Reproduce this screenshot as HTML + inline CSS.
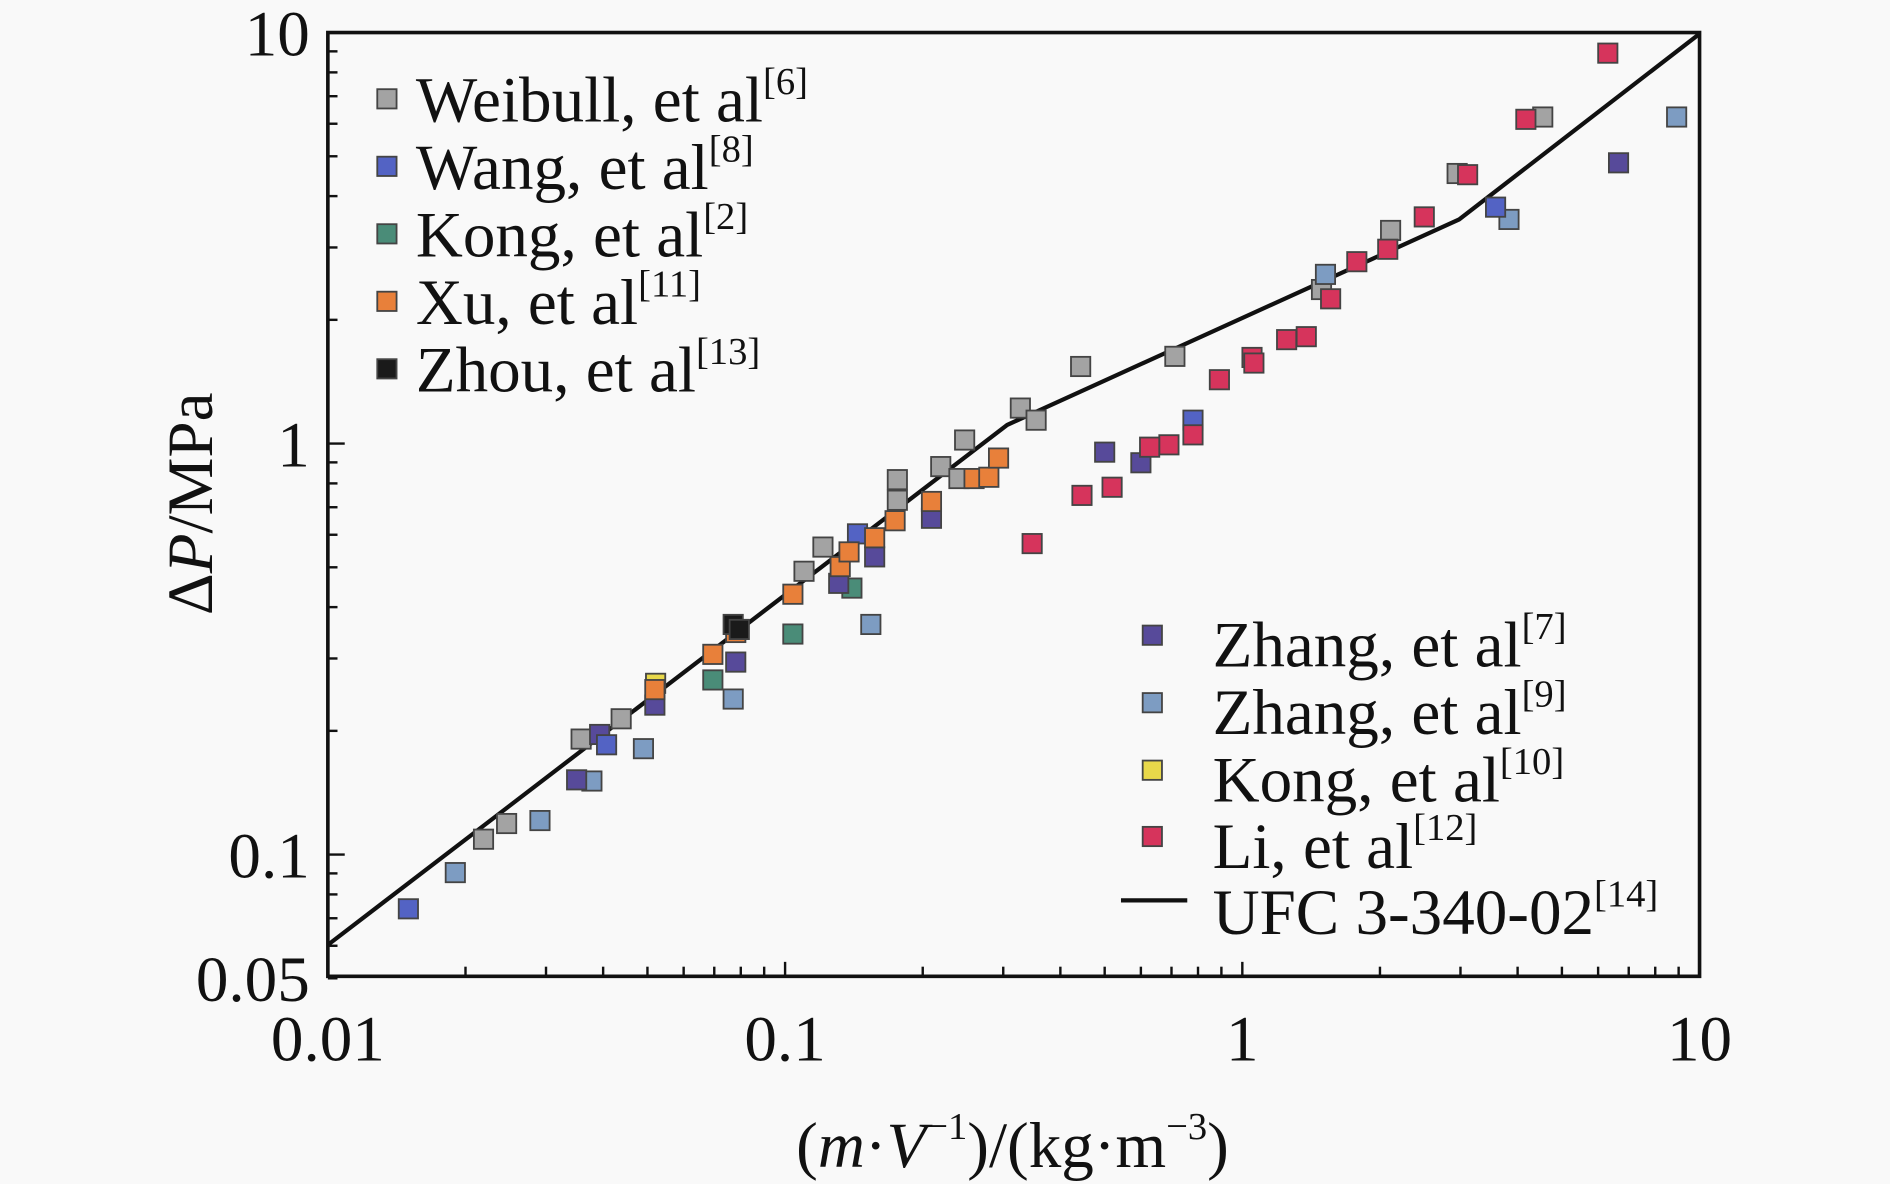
<!DOCTYPE html>
<html><head><meta charset="utf-8"><style>
html,body{margin:0;padding:0;background:#f9f9f9;}
svg{display:block;font-family:"Liberation Serif",serif;}
</style></head><body>
<svg id="chart" width="1890" height="1184" viewBox="0 0 1568 982.3" preserveAspectRatio="none" xmlns="http://www.w3.org/2000/svg">
<rect x="0" y="0" width="1568" height="983" fill="#f9f9f9"/>
<g id="marks"></g>
<g id="axes"></g>
<g font-size="54" fill="#111">
  <rect x="313" y="74" width="16" height="16" fill="#a3a3a3" stroke="#444" stroke-width="1.5"/>
  <text x="345" y="101">Weibull, et al<tspan font-size="32" dy="-23">[6]</tspan></text>
  <rect x="313" y="130" width="16" height="16" fill="#5363c4" stroke="#444" stroke-width="1.5"/>
  <text x="345" y="157">Wang, et al<tspan font-size="32" dy="-23">[8]</tspan></text>
  <rect x="313" y="186" width="16" height="16" fill="#4a8c78" stroke="#444" stroke-width="1.5"/>
  <text x="345" y="213">Kong, et al<tspan font-size="32" dy="-23">[2]</tspan></text>
  <rect x="313" y="242" width="16" height="16" fill="#e8803a" stroke="#444" stroke-width="1.5"/>
  <text x="345" y="269">Xu, et al<tspan font-size="32" dy="-23">[11]</tspan></text>
  <rect x="313" y="298" width="16" height="16" fill="#1a1a1a" stroke="#444" stroke-width="1.5"/>
  <text x="345" y="325">Zhou, et al<tspan font-size="32" dy="-23">[13]</tspan></text>
</g>
<g font-size="54" fill="#111">
  <rect x="948" y="519" width="16" height="16" fill="#574a9a" stroke="#444" stroke-width="1.5"/>
  <text x="1006" y="553">Zhang, et al<tspan font-size="32" dy="-23">[7]</tspan></text>
  <rect x="948" y="575" width="16" height="16" fill="#7d9cc2" stroke="#444" stroke-width="1.5"/>
  <text x="1006" y="609">Zhang, et al<tspan font-size="32" dy="-23">[9]</tspan></text>
  <rect x="948" y="631" width="16" height="16" fill="#e8d84a" stroke="#444" stroke-width="1.5"/>
  <text x="1006" y="665">Kong, et al<tspan font-size="32" dy="-23">[10]</tspan></text>
  <rect x="948" y="686" width="16" height="16" fill="#d6345c" stroke="#444" stroke-width="1.5"/>
  <text x="1006" y="720">Li, et al<tspan font-size="32" dy="-23">[12]</tspan></text>
  <line x1="930" y1="747" x2="985" y2="747" stroke="#111" stroke-width="3.5"/>
  <text x="1006" y="775">UFC 3-340-02<tspan font-size="32" dy="-23">[14]</tspan></text>
</g>
</svg>
<script>
// ---- data ----
const weibullX = [0.0219,0.0246,0.0358,0.0438,0.110,0.121,0.176,0.176,0.219,0.247,0.240,0.327,0.354,0.443,0.712,1.49,2.11,2.95,4.54];
const weibullY = [0.109,0.119,0.191,0.214,0.489,0.560,0.728,0.817,0.879,1.02,0.822,1.22,1.14,1.54,1.63,2.37,3.30,4.54,6.23];
const liX = [6.30,4.17,3.11,2.50,2.08,1.78,1.56,1.38,1.25,1.05,1.06,0.891,0.780,0.691,0.627,0.519,0.446,0.347];
const liY = [8.91,6.15,4.51,3.56,2.97,2.77,2.25,1.82,1.79,1.62,1.57,1.43,1.05,0.993,0.980,0.783,0.748,0.571];
const wangX = [0.0150,3.58,0.78,0.0407,0.144];
const wangY = [0.0738,3.76,1.14,0.185,0.603];
const zhang7X = [6.65,0.500,0.600,0.157,0.209,0.131,0.078,0.0519,0.0393,0.035];
const zhang7Y = [4.82,0.953,0.898,0.530,0.658,0.457,0.294,0.231,0.196,0.152];
const zhang9X = [8.91,3.83,1.52,0.154,0.077,0.049,0.0378,0.0291,0.0190];
const zhang9Y = [6.23,3.51,2.58,0.363,0.239,0.181,0.151,0.121,0.0904];
const kong2X = [0.0695,0.104,0.140];
const kong2Y = [0.266,0.344,0.445];
const xuX = [0.0695,0.078,0.104,0.132,0.138,0.157,0.174,0.209,0.259,0.279,0.293,0.0519];
const xuY = [0.307,0.347,0.430,0.502,0.545,0.590,0.649,0.723,0.822,0.828,0.922,0.252];
const kong10X = [0.0521];
const kong10Y = [0.261];
const zhouX = [0.077,0.0794];
const zhouY = [0.363,0.353];
const ufcX = [0.01,0.306,2.98,10];
const ufcY = [0.0603,1.11,3.51,9.93];
const xTickLabels = ["0.01","0.1","1","10"];
const yTickLabels = ["0.05","0.1","1","10"];
const yTickValues = [0.05,0.1,1,10];

// ---- axis functions ----
const L=272,R=1410,T=27,B=810;
function sx(v){return L+(Math.log10(v)+2)/3*(R-L);}
function sy(v){return T+(1-Math.log10(v))*341;}
const NS="http://www.w3.org/2000/svg";
function mk(tag,attrs,parent){const e=document.createElementNS(NS,tag);for(const k in attrs)e.setAttribute(k,attrs[k]);parent.appendChild(e);return e;}
const marks=document.getElementById('marks');
const axes=document.getElementById('axes');

const line=mk('polyline',{points:ufcX.map((x,i)=>sx(x)+','+sy(ufcY[i])).join(' '),fill:'none',stroke:'#111','stroke-width':3.5,'stroke-linejoin':'round'},marks);



function series(xs,ys,color,name){
  const g=mk('g',{},marks);
  
  
  xs.forEach((x,i)=>{
    const r=mk('rect',{x:sx(x)-8,y:sy(ys[i])-8,width:16,height:16,fill:color,stroke:'#444','stroke-width':1.5},g);
    
    
  });
}
series(weibullX,weibullY,'#a3a3a3','weibull');
series(zhang9X,zhang9Y,'#7d9cc2','zhang9');
series(kong2X,kong2Y,'#4a8c78','kong2');
series(zhang7X,zhang7Y,'#574a9a','zhang7');
series(wangX,wangY,'#5363c4','wang');
series(kong10X,kong10Y,'#e8d84a','kong10');
series(xuX,xuY,'#e8803a','xu');
series(zhouX,zhouY,'#1a1a1a','zhou');
series(liX,liY,'#d6345c','li');

const fr=mk('rect',{x:L,y:T,width:R-L,height:B-T,fill:'none',stroke:'#111','stroke-width':3},axes);



for(let d=-2;d<1;d++){for(let m=1;m<=9;m++){const v=m*Math.pow(10,d);const x=sx(v);
  const t=mk('line',{x1:x,y1:B,x2:x,y2:B-(m===1?12:8),stroke:'#111','stroke-width':2},axes);
  
  }}
for(let d=-2;d<1;d++){for(let m=1;m<=9;m++){const v=m*Math.pow(10,d);if(v<0.05)continue;const y=sy(v);
  const t=mk('line',{x1:L,y1:y,x2:L+(m===1?14:8),y2:y,stroke:'#111','stroke-width':2},axes);
  
  }}

xTickLabels.forEach((s,i)=>{
  const t=mk('text',{x:sx(Math.pow(10,i-2)),y:880,'text-anchor':'middle','font-size':54,fill:'#111'},axes);
  t.textContent=s;
  
  
});
yTickLabels.forEach((s,i)=>{
  const t=mk('text',{x:257,y:sy(yTickValues[i])+19,'text-anchor':'end','font-size':54,fill:'#111'},axes);
  t.textContent=s;
  
  
});

const xt=mk('text',{x:840,y:968,'text-anchor':'middle','font-size':54,fill:'#111'},axes);
xt.innerHTML='(<tspan font-style="italic">m</tspan>·<tspan font-style="italic">V</tspan><tspan font-size="32" dy="-23">−1</tspan><tspan dy="23">)/(kg·m</tspan><tspan font-size="32" dy="-23">−3</tspan><tspan dy="23">)</tspan>';


const yt=mk('text',{x:0,y:0,'text-anchor':'middle','font-size':54,fill:'#111',transform:'translate(176,418) rotate(-90)'},axes);
yt.innerHTML='Δ<tspan font-style="italic">P</tspan>/MPa';


</script>
</body></html>
